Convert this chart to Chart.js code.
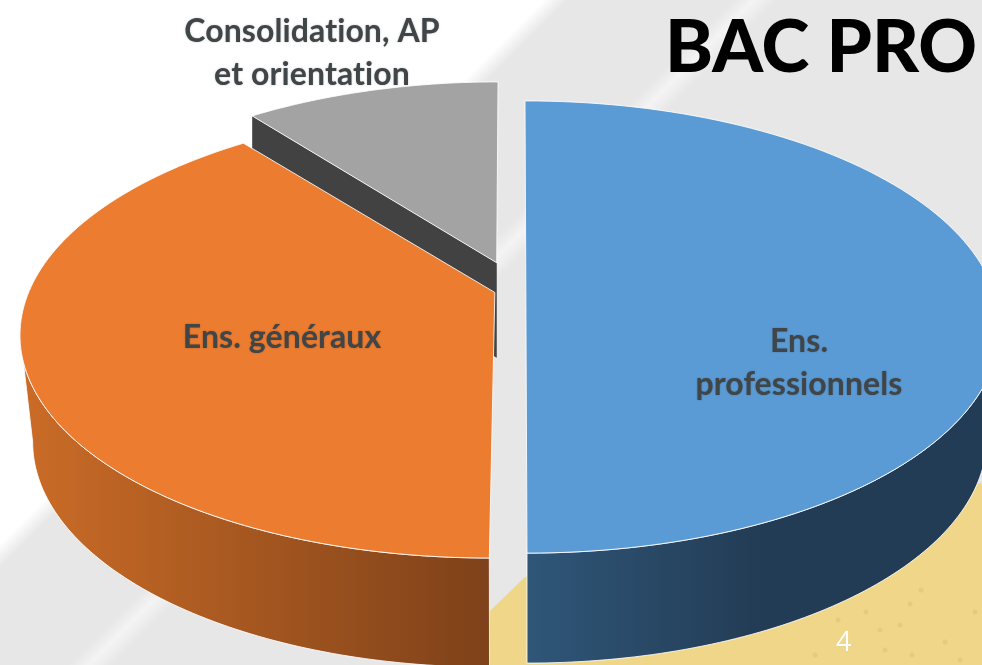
<!DOCTYPE html>
<html lang="fr">
<head>
    <meta charset="UTF-8">
    <title>BAC PRO</title>
    <script src="https://cdn.jsdelivr.net/npm/chart.js"></script>
    <style>
        html, body { margin: 0; padding: 0; background: #fff; overflow: hidden; }
        #wrap { position: relative; width: 982px; height: 665px; overflow: hidden; }
        #title {
            position: absolute; left: 665px; top: 0;
            font: 900 72.5px/88px Lato, sans-serif; color: #000; white-space: nowrap;
        }
        #pageNo {
            position: absolute; left: 836px; top: 628px;
            font: 400 27px/26px "Open Sans", sans-serif; color: #fff;
        }
    </style>
</head>
<body>
<div id="wrap">
    <canvas id="pie" width="982" height="665"></canvas>
    <div id="title">BAC PRO</div>
    <div id="pageNo">4</div>
</div>
<script>
    // Chart data (shares of the timetable)
    const categories = [['Ens.', 'professionnels'], ['Ens. généraux'], ['Consolidation, AP', 'et orientation']];
    const shares = [50, 39.3, 10.7];
    const sliceColors = ['#5b9bd5', '#ec7c30', '#a3a3a3'];

    // 3D look: every slice has its own projected ellipse, relative to chart centre and radius
    const frames = [
        { dx: 35, dy: -5.5, rx: 1.4256, ry: 0.68, apex: 0.18, tilt: 0.0044,
          wall: { dx: 36, dy: 105.5, rx: 1.383, ry: 0.677 },
          wallFrom: 527, wallTo: 760, wallStops: ['#2f5678', '#233c55'] },
        { dx: 3, dy: 0.5, rx: 1.4256, ry: 0.6767, apex: 0.18, tilt: -0.0207,
          wall: { dx: -1.5, dy: 109.5, rx: 1.374, ry: 0.677 },
          wallFrom: 20, wallTo: 490, wallStops: ['#cb6c27', '#7e4119'] },
        { dx: 5.4, dy: -24.5, rx: 1.40, ry: 0.68, apex: 0.2, tilt: -0.0072,
          sideColor: '#424242', sideDepth: 95 }
    ];
    const labelSpots = [
        { x: 799, y: 342, gap: 43 },
        { x: 282, y: 338, gap: 0 },
        { x: 312, y: 32, gap: 43 }
    ];
    // small marks in the yellow part of the slide background
    const backgroundSpecks = [[838, 620], [866, 612], [880, 630], [885, 650], [910, 604], [912, 655],
        [945, 642], [960, 660], [921, 590], [900, 625], [815, 655], [975, 612]];

    function ellipsePoint(f, arc, t) {
        const cx = arc.x + f.dx, cy = arc.y + f.dy;
        const y = cy - Math.cos(t) * arc.outerRadius * f.ry;
        const x = cx + Math.sin(t) * arc.outerRadius * f.rx + (f.tilt || 0) * (y - cy);
        return { x, y };
    }

    // pie angle -> angle on the ellipse, the slice tip sits above the ellipse centre
    function toEllipseAngle(f, angle) {
        const th = angle + Math.PI / 2;
        const den = 1 + f.apex * Math.cos(th);
        const yy = (Math.cos(th) + f.apex) / den;
        const xx = Math.sin(th) * Math.sqrt(1 - f.apex * f.apex) / den;
        let t = Math.atan2(xx, yy);
        if (t < 0) t += Math.PI * 2;
        return t;
    }

    function sliceRange(f, arc) {
        const t1 = toEllipseAngle(f, arc.startAngle);
        let t2 = toEllipseAngle(f, arc.endAngle);
        if (t2 <= t1) t2 += Math.PI * 2;
        return [t1, t2];
    }

    function apexPoint(f, arc) {
        const cx = arc.x + f.dx, cy = arc.y + f.dy;
        const up = f.apex * arc.outerRadius * f.ry;
        return { x: cx - (f.tilt || 0) * up, y: cy - up };
    }

    function drawWall(ctx, f, arc) {
        const range = sliceRange(f, arc);
        const from = Math.max(range[0], Math.PI / 2);
        const to = Math.min(range[1], Math.PI * 1.5);
        if (to <= from) return;
        const steps = 80;
        const grad = ctx.createLinearGradient(f.wallFrom, 0, f.wallTo, 0);
        grad.addColorStop(0, f.wallStops[0]);
        grad.addColorStop(1, f.wallStops[1]);
        ctx.beginPath();
        for (let i = 0; i <= steps; i++) {
            const p = ellipsePoint(f, arc, from + (to - from) * i / steps);
            if (i === 0) ctx.moveTo(p.x, p.y); else ctx.lineTo(p.x, p.y);
        }
        for (let i = steps; i >= 0; i--) {
            const p = ellipsePoint(f.wall, arc, from + (to - from) * i / steps);
            ctx.lineTo(p.x, p.y);
        }
        ctx.closePath();
        ctx.fillStyle = grad;
        ctx.fill();
        ctx.strokeStyle = 'rgba(255,255,255,0.85)';
        ctx.lineWidth = 1;
        ctx.stroke();
    }

    function drawSide(ctx, f, arc) {
        const a = apexPoint(f, arc);
        const b = ellipsePoint(f, arc, sliceRange(f, arc)[0]);
        ctx.beginPath();
        ctx.moveTo(a.x, a.y);
        ctx.lineTo(b.x, b.y);
        ctx.lineTo(b.x, b.y + f.sideDepth);
        ctx.lineTo(a.x, a.y + f.sideDepth);
        ctx.closePath();
        ctx.fillStyle = f.sideColor;
        ctx.fill();
    }

    function drawTop(ctx, f, arc) {
        const range = sliceRange(f, arc);
        const a = apexPoint(f, arc);
        const steps = 120;
        ctx.beginPath();
        ctx.moveTo(a.x, a.y);
        for (let i = 0; i <= steps; i++) {
            const p = ellipsePoint(f, arc, range[0] + (range[1] - range[0]) * i / steps);
            ctx.lineTo(p.x, p.y);
        }
        ctx.closePath();
        ctx.fillStyle = arc.options.backgroundColor;
        ctx.fill();
        ctx.strokeStyle = 'rgba(255,255,255,0.85)';
        ctx.lineWidth = 1;
        ctx.stroke();
    }

    const slideBackground = {
        id: 'slideBackground',
        beforeDraw(chart) {
            const ctx = chart.ctx;
            const grad = ctx.createLinearGradient(0, 0, 823.5, 823.5);
            const stops = [[0, '#ffffff'], [0.33, '#ffffff'], [0.345, '#e7e7e7'], [0.445, '#e7e7e7'],
                [0.458, '#f4f4f4'], [0.472, '#e7e7e7'], [1, '#e7e7e7']];
            stops.forEach(s => grad.addColorStop(s[0], s[1]));
            ctx.save();
            ctx.fillStyle = grad;
            ctx.fillRect(0, 0, chart.width, chart.height);
            ctx.fillStyle = '#f0d688';
            ctx.beginPath();
            ctx.moveTo(460, 665);
            ctx.lineTo(460, 640);
            ctx.lineTo(525, 577);
            ctx.quadraticCurveTo(740, 520, 982, 483);
            ctx.lineTo(982, 665);
            ctx.closePath();
            ctx.fill();
            ctx.fillStyle = 'rgba(170,140,80,0.14)';
            backgroundSpecks.forEach(s => {
                ctx.beginPath();
                ctx.arc(s[0], s[1], 2.5, 0, Math.PI * 2);
                ctx.fill();
            });
            ctx.restore();
        }
    };

    const pie3d = {
        id: 'pie3d',
        beforeDatasetsDraw(chart) {
            const ctx = chart.ctx;
            const arcs = chart.getDatasetMeta(0).data;
            ctx.save();
            [2, 1, 0].forEach(i => {
                const f = frames[i];
                if (f.sideColor) drawSide(ctx, f, arcs[i]);
                if (f.wall) drawWall(ctx, f, arcs[i]);
                drawTop(ctx, f, arcs[i]);
            });
            // slice names
            ctx.font = '700 32px Lato, sans-serif';
            ctx.letterSpacing = '0.1px'; // keeps Lato from joining "ti"
            ctx.fillStyle = '#404548';
            ctx.textAlign = 'center';
            ctx.textBaseline = 'middle';
            ctx.shadowColor = 'rgba(0,0,0,0.25)';
            ctx.shadowBlur = 2;
            chart.data.labels.forEach((lines, i) => {
                lines.forEach((line, k) => {
                    ctx.fillText(line, labelSpots[i].x, labelSpots[i].y + k * labelSpots[i].gap);
                });
            });
            ctx.restore();
            return false;
        }
    };

    new Chart(document.getElementById('pie').getContext('2d'), {
        type: 'pie',
        data: {
            labels: categories,
            datasets: [{ data: shares, backgroundColor: sliceColors, borderWidth: 0 }]
        },
        options: {
            responsive: false,
            animation: false,
            plugins: {
                legend: { display: false },
                tooltip: { enabled: false }
            }
        },
        plugins: [slideBackground, pie3d]
    });
</script>
</body>
</html>
